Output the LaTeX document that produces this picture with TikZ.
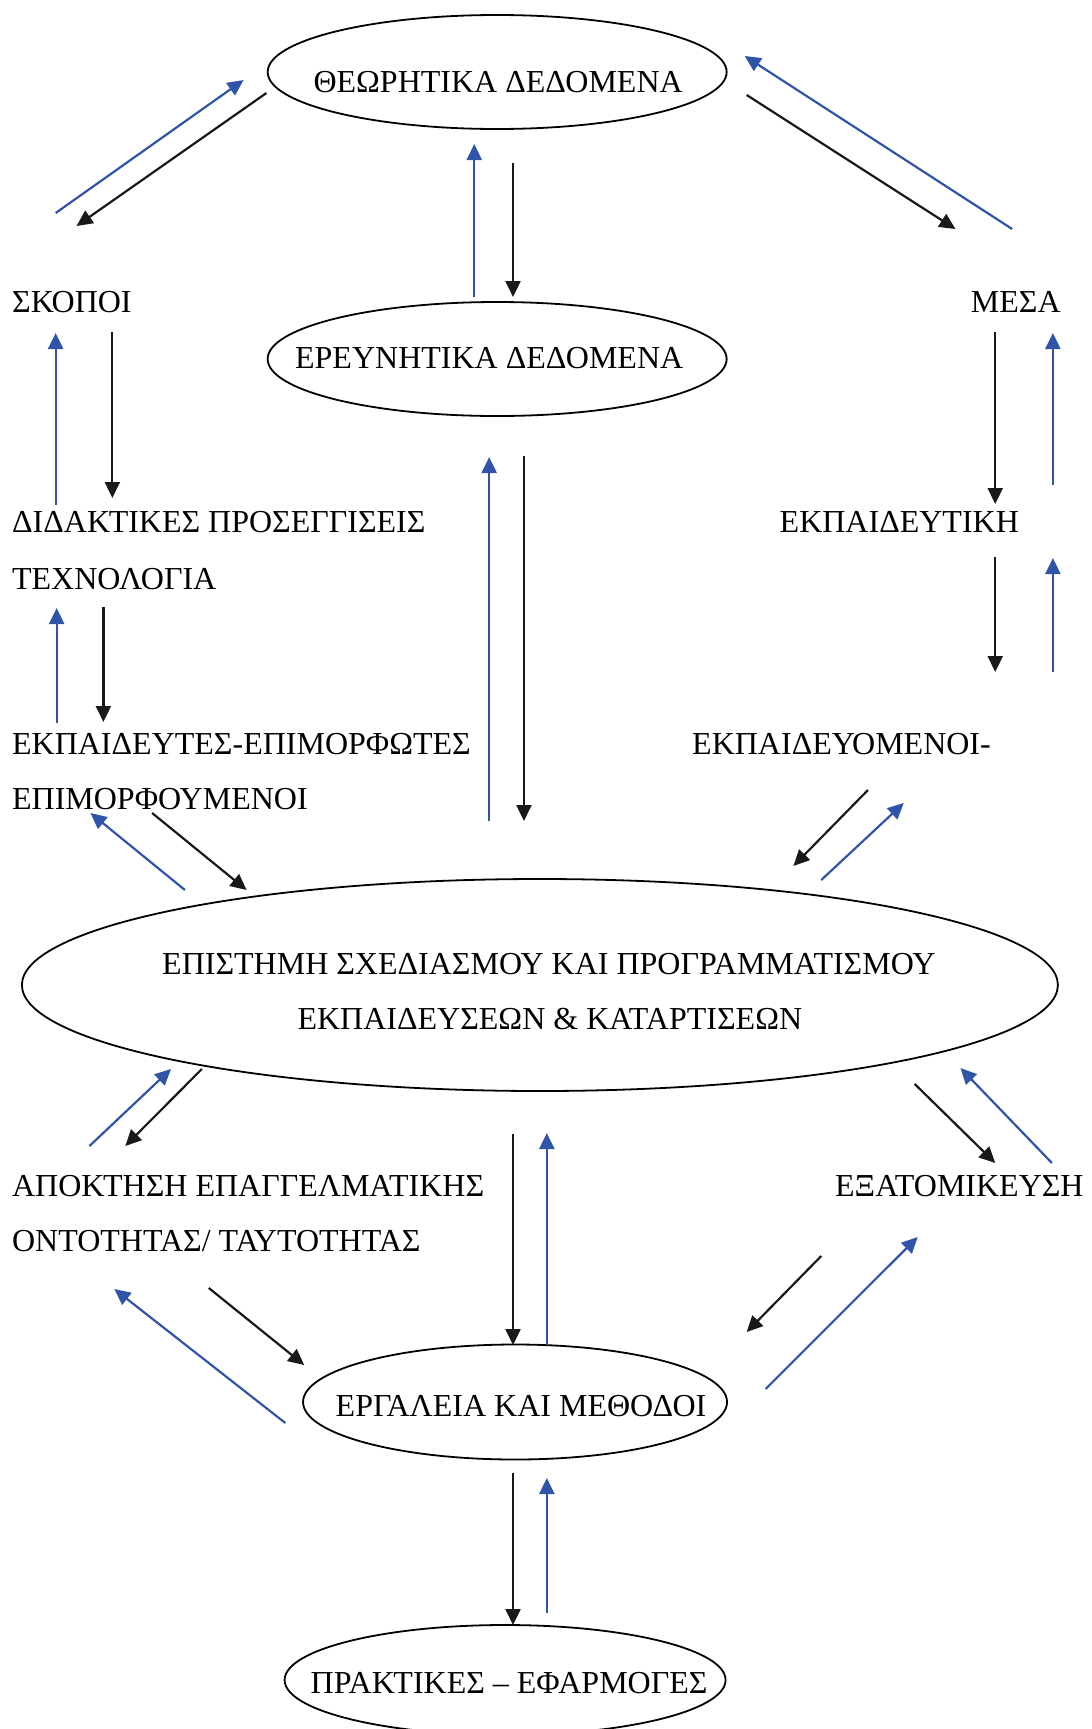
\documentclass[tikz,border=0pt]{standalone}
\usepackage{fontspec}
\setmainfont{Liberation Serif}
\usetikzlibrary{arrows.meta,shapes.geometric}
\definecolor{arrblue}{RGB}{48,84,168}
\begin{document}
\begin{tikzpicture}[x=1pt,y=-1pt,
  ell/.style={draw=black,line width=1.8pt,ellipse,inner sep=0pt},
  txt/.style={inner sep=0pt,font=\fontsize{32}{38}\selectfont},
  karr/.style={draw=black!90,line width=2.2pt,-{Triangle[length=16pt,width=15pt]}},
  barr/.style={draw=arrblue,line width=2.2pt,-{Triangle[length=16pt,width=15pt]}}]
\useasboundingbox (0,0) rectangle (1092,1729);
\begin{scope}[xscale=0.9943]
% ellipses
\node[ell,minimum width=459pt,minimum height=114pt] (theor) at (500,72) {};
\node[ell,minimum width=459pt,minimum height=114pt] (ereun) at (500,359) {};
\node[ell,minimum width=1036pt,minimum height=212pt] (epist) at (543,985) {};
\node[ell,minimum width=424pt,minimum height=115pt] (ergal) at (518,1402) {};
\node[ell,minimum width=441pt,minimum height=110pt] (prakt) at (508,1680) {};
% ellipse texts
\node[txt,anchor=base] (theorT) at (501,92) {ΘΕΩΡΗΤΙΚΑ ΔΕΔΟΜΕΝΑ};
\node[txt,anchor=base] (ereunT) at (492,368) {ΕΡΕΥΝΗΤΙΚΑ ΔΕΔΟΜΕΝΑ};
\node[txt,anchor=base] (epistT1) at (552,974) {ΕΠΙΣΤΗΜΗ ΣΧΕΔΙΑΣΜΟΥ ΚΑΙ ΠΡΟΓΡΑΜΜΑΤΙΣΜΟΥ};
\node[txt,anchor=base] (epistT2) at (553,1029) {ΕΚΠΑΙΔΕΥΣΕΩΝ \& ΚΑΤΑΡΤΙΣΕΩΝ};
\node[txt,anchor=base] (ergalT) at (524,1416) {ΕΡΓΑΛΕΙΑ ΚΑΙ ΜΕΘΟΔΟΙ};
\node[txt,anchor=base] (praktT) at (512,1693) {ΠΡΑΚΤΙΚΕΣ – ΕΦΑΡΜΟΓΕΣ};
% free texts
\node[txt,anchor=base west] (skopoi) at (12,312) {ΣΚΟΠΟΙ};
\node[txt,anchor=base east] (mesa) at (1067,312) {ΜΕΣΑ};
\node[txt,anchor=base west] (didakt) at (12,532) {ΔΙΔΑΚΤΙΚΕΣ ΠΡΟΣΕΓΓΙΣΕΙΣ};
\node[txt,anchor=base west] (techn) at (12,589) {ΤΕΧΝΟΛΟΓΙΑ};
\node[txt,anchor=base west] (ekpaid) at (784,532) {ΕΚΠΑΙΔΕΥΤΙΚΗ};
\node[txt,anchor=base west] (ekpaidEp) at (12,754) {ΕΚΠΑΙΔΕΥΤΕΣ-ΕΠΙΜΟΡΦΩΤΕΣ};
\node[txt,anchor=base west] (epimorf) at (12,809) {ΕΠΙΜΟΡΦΟΥΜΕΝΟΙ};
\node[txt,anchor=base west] (ekpaidOm) at (696,754) {ΕΚΠΑΙΔΕΥΟΜΕΝΟΙ-};
\node[txt,anchor=base west] (apokt) at (12,1196) {ΑΠΟΚΤΗΣΗ ΕΠΑΓΓΕΛΜΑΤΙΚΗΣ};
\node[txt,anchor=base west] (ontot) at (12,1251) {ΟΝΤΟΤΗΤΑΣ/ ΤΑΥΤΟΤΗΤΑΣ};
\node[txt,anchor=base east] (exat) at (1090,1196) {ΕΞΑΤΟΜΙΚΕΥΣΗ};
% arrow end points
\coordinate (b1s) at (56,213);   \coordinate (b1e) at (245,80);
\coordinate (b2s) at (1018,229); \coordinate (b2e) at (749,56);
\coordinate (b3s) at (477,297);  \coordinate (b3e) at (477,144);
\coordinate (b4s) at (56,505);   \coordinate (b4e) at (56,333);
\coordinate (b5s) at (1059,485); \coordinate (b5e) at (1059,333);
\coordinate (b6s) at (57,723);   \coordinate (b6e) at (57,608);
\coordinate (b7s) at (1059,672); \coordinate (b7e) at (1059,558);
\coordinate (b8s) at (492,821);  \coordinate (b8e) at (492,457);
\coordinate (b9s) at (186,890);  \coordinate (b9e) at (91,813);
\coordinate (b10s) at (826,880); \coordinate (b10e) at (909,803);
\coordinate (b11s) at (90,1146); \coordinate (b11e) at (172,1069);
\coordinate (b12s) at (1058,1163); \coordinate (b12e) at (966,1068);
\coordinate (b13s) at (550,1345); \coordinate (b13e) at (550,1133);
\coordinate (b14s) at (287,1423); \coordinate (b14e) at (115,1289);
\coordinate (b15s) at (770,1389); \coordinate (b15e) at (923,1237);
\coordinate (b16s) at (550,1613); \coordinate (b16e) at (550,1478);
\coordinate (k1s) at (268,93);   \coordinate (k1e) at (77,226);
\coordinate (k2s) at (751,95);   \coordinate (k2e) at (961,229);
\coordinate (k3s) at (516,163);  \coordinate (k3e) at (516,297);
\coordinate (k4s) at (113,332);  \coordinate (k4e) at (113,498);
\coordinate (k5s) at (1001,332); \coordinate (k5e) at (1001,504);
\coordinate (k6s) at (104,607);  \coordinate (k6e) at (104,722);
\coordinate (k7s) at (1001,557); \coordinate (k7e) at (1001,672);
\coordinate (k8s) at (527,456);  \coordinate (k8e) at (527,821);
\coordinate (k9s) at (153,813);  \coordinate (k9e) at (248,890);
\coordinate (k10s) at (873,790); \coordinate (k10e) at (798,866);
\coordinate (k11s) at (203,1069); \coordinate (k11e) at (126,1146);
\coordinate (k12s) at (920,1084); \coordinate (k12e) at (1001,1163);
\coordinate (k13s) at (516,1134); \coordinate (k13e) at (516,1345);
\coordinate (k14s) at (210,1288); \coordinate (k14e) at (306,1365);
\coordinate (k15s) at (826,1256); \coordinate (k15e) at (751,1332);
\coordinate (k16s) at (516,1473); \coordinate (k16e) at (516,1625);
% arrows
\foreach \i in {1,...,16}{
  \draw[barr] (b\i s) -- (b\i e);
  \draw[karr] (k\i s) -- (k\i e);
}
\end{scope}
\end{tikzpicture}
\end{document}
